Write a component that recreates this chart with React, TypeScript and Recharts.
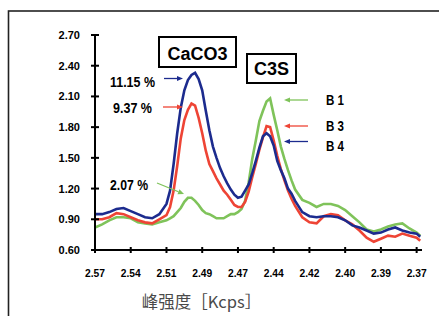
import React from 'react';
import { Line, LineChart, XAxis, YAxis } from 'recharts';

// x positions (category index, 10 steps per labelled tick)
const positions = [
  0, 2, 4, 6, 8, 10, 12, 14, 16, 18, 20,
  21, 22, 23, 24, 25, 26, 27, 28, 29, 30, 31, 32, 33, 34, 35, 36, 37, 38,
  39, 40, 41, 42, 43, 44, 45, 46, 47, 48, 49, 50, 51, 52, 53, 54, 55, 56,
  58, 60, 62, 64, 66, 68, 70, 72, 74, 76, 78, 80, 82, 84, 86, 88, 90, 91,
];

// B4 (11.15 %)
const b4 = [
  0.95, 0.95, 0.97, 1.0, 1.01, 0.98, 0.95, 0.92, 0.91, 0.95, 1.05,
  1.18, 1.44, 1.74, 1.99, 2.16, 2.26, 2.31, 2.33, 2.27, 2.16, 1.96, 1.77, 1.61, 1.5, 1.4, 1.32, 1.25, 1.19,
  1.14, 1.11, 1.12, 1.18, 1.24, 1.35, 1.47, 1.6, 1.71, 1.74, 1.71, 1.62, 1.47, 1.38, 1.3, 1.2, 1.15, 1.08,
  0.97, 0.93, 0.92, 0.93, 0.93, 0.92, 0.89, 0.84, 0.82, 0.79, 0.76, 0.77, 0.8, 0.82, 0.79, 0.77, 0.76, 0.73,
];

// B3 (9.37 %)
const b3 = [
  0.9, 0.9, 0.92, 0.96, 0.95, 0.92, 0.89, 0.87, 0.86, 0.9, 0.94,
  1.02, 1.18, 1.42, 1.69, 1.87, 1.97, 2.03, 2.01, 1.89, 1.74, 1.57, 1.44, 1.37, 1.3, 1.24, 1.18, 1.14, 1.09,
  1.04, 1.02, 1.02, 1.07, 1.17, 1.31, 1.44, 1.58, 1.7, 1.81, 1.8, 1.67, 1.52, 1.39, 1.28, 1.18, 1.1, 1.03,
  0.92, 0.87, 0.86, 0.93, 0.95, 0.94, 0.89, 0.85, 0.79, 0.72, 0.68, 0.71, 0.74, 0.73, 0.76, 0.74, 0.72, 0.69,
];

// B1 (2.07 %)
const b1 = [
  0.82, 0.85, 0.89, 0.92, 0.92, 0.91, 0.87, 0.86, 0.85, 0.87, 0.89,
  0.91, 0.93, 0.97, 1.01, 1.07, 1.11, 1.11, 1.08, 1.04, 0.99, 0.96, 0.95, 0.93, 0.91, 0.91, 0.91, 0.93, 0.95,
  0.95, 0.97, 1.0, 1.08, 1.26, 1.49, 1.67, 1.86, 1.96, 2.05, 2.08, 1.92, 1.77, 1.61, 1.49, 1.38, 1.28, 1.19,
  1.09, 1.06, 1.02, 1.05, 1.05, 1.03, 0.99, 0.93, 0.87, 0.8, 0.78, 0.8, 0.83, 0.85, 0.86, 0.81, 0.77, 0.74,
];

const xLabels = ['2.57', '2.54', '2.51', '2.49', '2.47', '2.44', '2.42', '2.40', '2.39', '2.37'];
const xTicks = [0, 10, 20, 30, 40, 50, 60, 70, 80, 90];
const yTicks = [0.6, 0.9, 1.2, 1.5, 1.8, 2.1, 2.4, 2.7];

const BLUE = '#1c2b8e';
const RED = '#ee4435';
const GREEN = '#7fc35a';
const FONT = '"Liberation Sans", Arial, sans-serif';

const rows = positions.map((pos, i) => ({ pos, b1: b1[i], b3: b3[i], b4: b4[i] }));

const XTick = ({ x, y, payload }: any) => (
  <g>
    <line x1={x} x2={x} y1={y - 3} y2={y + 3} stroke="#000" strokeWidth={2} />
    <text x={x} y={y + 27} textAnchor="middle" fontSize={11} fontWeight="bold" fontFamily={FONT} fill="#000"
      textLength={20} lengthAdjust="spacingAndGlyphs">
      {xLabels[Math.round(payload.value / 10)]}
    </text>
  </g>
);

const YTick = ({ x, y, payload }: any) => (
  <g>
    <line x1={x - 4} x2={x + 4} y1={y} y2={y} stroke="#000" strokeWidth={2} />
    <text x={x - 15} y={y + 4} textAnchor="end" fontSize={11} fontWeight="bold" fontFamily={FONT} fill="#000">
      {Number(payload.value).toFixed(2)}
    </text>
  </g>
);

function Arrow({ x1, y1, x2, y2, color }: { x1: number; y1: number; x2: number; y2: number; color: string }) {
  const a = Math.atan2(y2 - y1, x2 - x1);
  const len = 6;
  const w = 2.6;
  const bx = x2 - len * Math.cos(a);
  const by = y2 - len * Math.sin(a);
  const px = -Math.sin(a) * w;
  const py = Math.cos(a) * w;
  return (
    <g>
      <line x1={x1} y1={y1} x2={bx} y2={by} stroke={color} strokeWidth={1.3} />
      <polygon points={`${x2},${y2} ${bx + px},${by + py} ${bx - px},${by - py}`} fill={color} />
    </g>
  );
}

const label = { fontFamily: FONT, fontWeight: 'bold' as const, fill: '#000' };

export default function App() {
  return (
    <div style={{ position: 'absolute', left: 0, top: 0, width: 439, height: 316, overflow: 'hidden', background: '#fff' }}>
      <LineChart width={439} height={316} data={rows} margin={{ top: 35, right: 17, bottom: 36, left: 0 }}>
        <XAxis
          dataKey="pos"
          type="number"
          domain={[0, 91.5]}
          ticks={xTicks}
          interval={0}
          height={30}
          axisLine={{ stroke: '#000', strokeWidth: 2 }}
          tickLine={false}
          tickSize={0}
          tickMargin={0}
          tick={XTick}
        />
        <YAxis
          type="number"
          domain={[0.6, 2.7]}
          ticks={yTicks}
          interval={0}
          width={95}
          axisLine={{ stroke: '#000', strokeWidth: 2 }}
          tickLine={false}
          tickSize={0}
          tickMargin={0}
          tick={YTick}
        />
        <Line dataKey="b1" stroke={GREEN} strokeWidth={2.6} dot={false} isAnimationActive={false} />
        <Line dataKey="b3" stroke={RED} strokeWidth={2.6} dot={false} isAnimationActive={false} />
        <Line dataKey="b4" stroke={BLUE} strokeWidth={2.6} dot={false} isAnimationActive={false} />
      </LineChart>
      <svg width={439} height={316} style={{ position: 'absolute', left: 0, top: 0, pointerEvents: 'none' }}>
        <rect x={8.5} y={11} width={500} height={400} fill="none" stroke="#222" strokeWidth={1.6} />

        <rect x={159} y={37} width={77} height={30} fill="#fff" stroke="#000" strokeWidth={2} />
        <text x={197.5} y={59.5} textAnchor="middle" fontSize={18} {...label}>CaCO3</text>
        <rect x={247} y={54} width={49} height={29} fill="#fff" stroke="#000" strokeWidth={2} />
        <text x={271.5} y={75} textAnchor="middle" fontSize={18} {...label}>C3S</text>

        <text x={110} y={87} fontSize={14} textLength={45} lengthAdjust="spacingAndGlyphs" {...label}>11.15 %</text>
        <Arrow x1={164} y1={78.5} x2={183} y2={78.5} color={BLUE} />
        <text x={113} y={113} fontSize={14} textLength={39} lengthAdjust="spacingAndGlyphs" {...label}>9.37 %</text>
        <Arrow x1={163} y1={107} x2={183} y2={107} color={RED} />
        <text x={110} y={190} fontSize={14} textLength={38} lengthAdjust="spacingAndGlyphs" {...label}>2.07 %</text>
        <Arrow x1={157} y1={183} x2={184} y2={194} color={GREEN} />

        <text x={326} y={105} fontSize={15} textLength={18} lengthAdjust="spacingAndGlyphs" {...label}>B 1</text>
        <Arrow x1={308} y1={100} x2={284} y2={100} color={GREEN} />
        <text x={326} y={131} fontSize={15} textLength={18} lengthAdjust="spacingAndGlyphs" {...label}>B 3</text>
        <Arrow x1={308} y1={126} x2={284} y2={126} color={RED} />
        <text x={326} y={150.5} fontSize={15} textLength={18} lengthAdjust="spacingAndGlyphs" {...label}>B 4</text>
        <Arrow x1={308} y1={141.5} x2={284} y2={141.5} color={BLUE} />

        <text x={201.5} y={308} textAnchor="middle" fontSize={16.5} fontWeight="normal"
          fontFamily='"Noto Sans CJK SC", "Noto Sans CJK JP", sans-serif' fill="#4a4a4a">
          峰强度［Kcps］
        </text>
      </svg>
    </div>
  );
}
